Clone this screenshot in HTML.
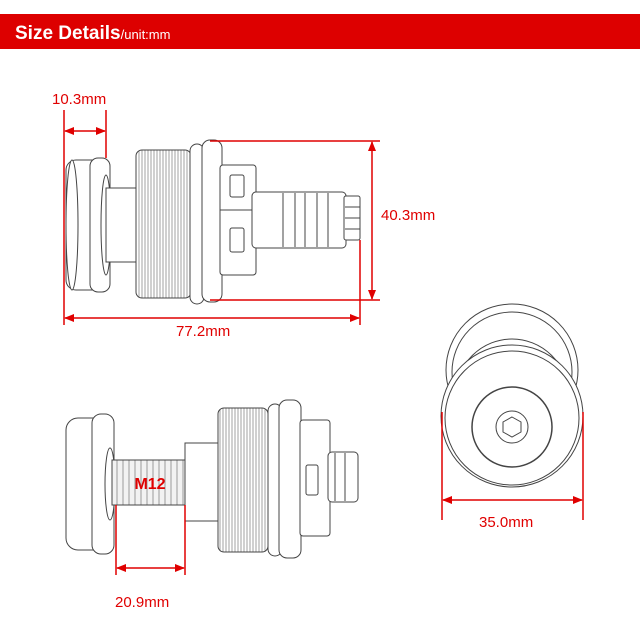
<!DOCTYPE html>
<html><head><meta charset="utf-8"><style>
body{margin:0;background:#fff;}
svg{display:block;font-family:"Liberation Sans",sans-serif;}
</style></head><body>
<svg width="640" height="640" viewBox="0 0 640 640" xmlns="http://www.w3.org/2000/svg">
<defs>
<marker id="a" markerWidth="10" markerHeight="8" refX="9" refY="4" orient="auto-start-reverse" markerUnits="userSpaceOnUse"><path d="M0,0 L10,4 L0,8 z" fill="#e00000"/></marker>
<pattern id="th" width="3" height="10" patternUnits="userSpaceOnUse"><rect width="3" height="10" fill="#fff"/><line x1="1" y1="0" x2="1" y2="10" stroke="#888" stroke-width="0.8"/></pattern>
<pattern id="bt" width="6" height="10" patternUnits="userSpaceOnUse"><rect width="6" height="10" fill="#f2f2f2"/><line x1="3" y1="0" x2="3" y2="10" stroke="#999" stroke-width="1"/></pattern>
</defs>
<rect x="0" y="14" width="640" height="35" fill="#dd0000"/>
<text x="15" y="39" fill="#fff" font-size="19" font-weight="bold">Size Details<tspan font-size="13" font-weight="normal">/unit:mm</tspan></text>

<g fill="#fff" stroke="#444" stroke-width="1">
<!-- top view -->
<rect x="66" y="160" width="40" height="130" rx="10"/>
<ellipse cx="72" cy="225" rx="6" ry="65"/>
<rect x="90" y="158" width="20" height="134" rx="8"/>
<ellipse cx="106" cy="225" rx="5" ry="50"/>
<rect x="106" y="188" width="35" height="74"/>
<rect x="136" y="150" width="55" height="148" rx="6" fill="url(#th)"/>
<rect x="190" y="144" width="14" height="160" rx="7"/>
<rect x="202" y="140" width="20" height="162" rx="8"/>
<rect x="220" y="165" width="36" height="110" rx="3"/>
<rect x="230" y="175" width="14" height="22" rx="2"/>
<rect x="230" y="228" width="14" height="24" rx="2"/>
<line x1="220" y1="210" x2="256" y2="210"/>
<rect x="252" y="192" width="94" height="56" rx="4"/>
<line x1="283" y1="193" x2="283" y2="247"/><line x1="295" y1="193" x2="295" y2="247"/><line x1="305" y1="193" x2="305" y2="247"/><line x1="317" y1="193" x2="317" y2="247"/><line x1="328" y1="193" x2="328" y2="247"/>
<rect x="344" y="196" width="16" height="44" rx="2"/>
<line x1="345" y1="207" x2="360" y2="207"/><line x1="345" y1="218" x2="360" y2="218"/><line x1="345" y1="229" x2="360" y2="229"/>

<!-- bottom view -->
<rect x="66" y="418" width="44" height="132" rx="12"/>
<rect x="92" y="414" width="22" height="140" rx="9"/>
<ellipse cx="110" cy="484" rx="5" ry="36"/>
<rect x="112" y="460" width="76" height="45" fill="url(#bt)"/>
<rect x="185" y="443" width="36" height="78"/>
<rect x="218" y="408" width="50" height="144" rx="6" fill="url(#th)"/>
<rect x="268" y="404" width="14" height="152" rx="7"/>
<rect x="279" y="400" width="22" height="158" rx="8"/>
<rect x="300" y="420" width="30" height="116" rx="3"/>
<rect x="306" y="465" width="12" height="30" rx="2"/>
<rect x="328" y="452" width="30" height="50" rx="4"/>
<line x1="335" y1="453" x2="335" y2="501"/><line x1="345" y1="453" x2="345" y2="501"/>

<!-- end view -->
<circle cx="512" cy="370" r="66"/>
<circle cx="512" cy="372" r="60"/>
<circle cx="512" cy="395" r="56"/>
<circle cx="512" cy="416" r="71"/>
<circle cx="512" cy="418" r="67"/>
<circle cx="512" cy="427" r="40" stroke-width="1.5"/>
<circle cx="512" cy="427" r="16"/>
<polygon points="512,417 521,422 521,432 512,437 503,432 503,422"/>
</g>
<text x="150" y="489" fill="#e00000" font-size="16" font-weight="bold" text-anchor="middle">M12</text>

<g stroke="#e00000" stroke-width="1.5" fill="none">
<line x1="64" y1="110" x2="64" y2="325"/>
<line x1="106" y1="110" x2="106" y2="158"/>
<line x1="65" y1="131" x2="105" y2="131" marker-start="url(#a)" marker-end="url(#a)"/>
<line x1="210" y1="141" x2="380" y2="141"/>
<line x1="210" y1="300" x2="380" y2="300"/>
<line x1="372" y1="142" x2="372" y2="299" marker-start="url(#a)" marker-end="url(#a)"/>
<line x1="360" y1="240" x2="360" y2="325"/>
<line x1="65" y1="318" x2="359" y2="318" marker-start="url(#a)" marker-end="url(#a)"/>
<line x1="116" y1="505" x2="116" y2="575"/>
<line x1="185" y1="505" x2="185" y2="575"/>
<line x1="117" y1="568" x2="184" y2="568" marker-start="url(#a)" marker-end="url(#a)"/>
<line x1="442" y1="412" x2="442" y2="520"/>
<line x1="583" y1="412" x2="583" y2="520"/>
<line x1="443" y1="500" x2="582" y2="500" marker-start="url(#a)" marker-end="url(#a)"/>
</g>
<g fill="#e00000" font-size="15">
<text x="52" y="104">10.3mm</text>
<text x="381" y="220">40.3mm</text>
<text x="176" y="336">77.2mm</text>
<text x="115" y="607">20.9mm</text>
<text x="479" y="527">35.0mm</text>
</g>
</svg>
</body></html>
